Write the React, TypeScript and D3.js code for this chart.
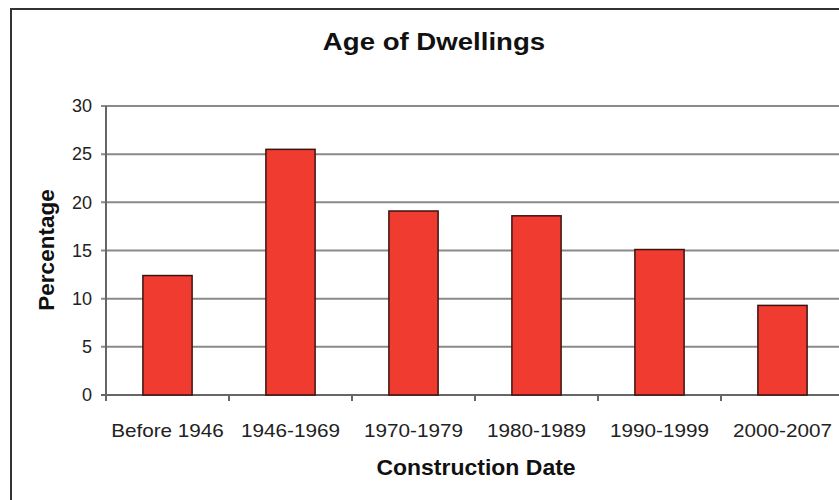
import React from "react";
import * as d3 from "d3";

const categories = ["Before 1946", "1946-1969", "1970-1979", "1980-1989", "1990-1999", "2000-2007"];
const values = [12.4, 25.5, 19.1, 18.6, 15.1, 9.3];
const yTicks = [0, 5, 10, 15, 20, 25, 30];
const title = "Age of Dwellings";
const xTitle = "Construction Date";
const yTitle = "Percentage";

const W = 839;
const H = 500;
const left = 106;
const right = 844;
const top = 106;
const bottom = 395;

export default function App() {
  const x = d3.scaleBand<string>().domain(categories).range([left, right]).paddingInner(0.6).paddingOuter(0.3);
  const y = d3.scaleLinear().domain([0, 30]).range([bottom, top]);
  const step = x.step();
  const font = "'Liberation Sans', Arial, sans-serif";
  const boundaries = d3.range(categories.length + 1).map((i) => left + i * step);
  return (
    <div style={{ position: "fixed", left: 0, top: 0 }}>
      <svg width={W} height={H} style={{ display: "block", background: "#fff" }}>
        <rect x={11} y={9} width={900} height={600} fill="#fff" stroke="#333" strokeWidth={2} />
        {yTicks.map((t) => (
          <g key={t}>
            <line x1={left - 5} x2={right} y1={y(t)} y2={y(t)} stroke={t === 0 ? "#666" : "#8a8a8a"} strokeWidth={2} />
            <text x={92} y={y(t)} dy="0.35em" textAnchor="end" fontFamily={font} fontSize={18} fill="#222">
              {t}
            </text>
          </g>
        ))}
        <line x1={left} x2={left} y1={top} y2={bottom} stroke="#666" strokeWidth={2} />
        {boundaries.map((b, i) => (
          <line key={i} x1={b} x2={b} y1={bottom} y2={bottom + 6} stroke="#666" strokeWidth={2} />
        ))}
        {categories.map((c, i) => (
          <rect
            key={c}
            x={x(c)!}
            y={y(values[i])}
            width={x.bandwidth()}
            height={bottom - y(values[i])}
            fill="#EF3B30"
            stroke="#3a1410"
            strokeWidth={1.5}
          />
        ))}
        {categories.map((c) => (
          <text
            key={c}
            transform={`translate(${x(c)! + x.bandwidth() / 2},437) scale(1.15,1)`}
            textAnchor="middle"
            fontFamily={font}
            fontSize={18}
            fill="#222"
          >
            {c}
          </text>
        ))}
        <text transform="translate(434,50) scale(1.15,1)" textAnchor="middle" fontFamily={font} fontSize={24} fontWeight="bold" fill="#111">
          {title}
        </text>
        <text transform="translate(476,475) scale(1.045,1)" textAnchor="middle" fontFamily={font} fontSize={22} fontWeight="bold" fill="#111">
          {xTitle}
        </text>
        <text transform={`translate(54,250) rotate(-90)`} textAnchor="middle" fontFamily={font} fontSize={22.5} fontWeight="bold" fill="#111">
          {yTitle}
        </text>
      </svg>
    </div>
  );
}
